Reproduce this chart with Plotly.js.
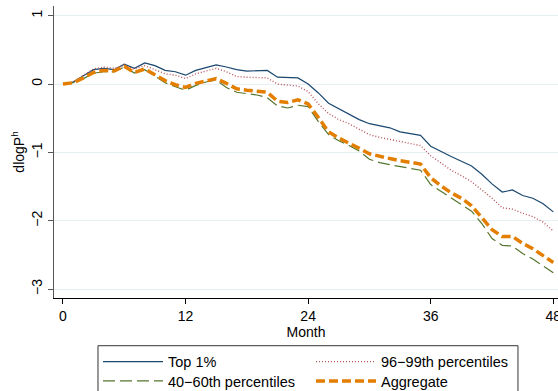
<!DOCTYPE html>
<html>
<head>
<meta charset="utf-8">
<script src="https://cdn.plot.ly/plotly-3.0.1.min.js"></script>
<style>
  html, body { margin: 0; padding: 0; background: #ffffff; }
  #chart { width: 558px; height: 391px; }
</style>
</head>
<body>
<div id="chart"></div>
<script>
// Months since the start of the episode
const months = Array.from({length: 49}, (_, i) => i);

// Cumulative change in log house prices, by price segment
const top1 = [
  0.00, 0.03, 0.12, 0.21, 0.23, 0.21, 0.29, 0.23, 0.31, 0.27,
  0.20, 0.18, 0.13, 0.20, 0.24, 0.28, 0.25, 0.21, 0.19, 0.19,
  0.20, 0.10, 0.09, 0.09, 0.00, -0.13, -0.28, -0.36, -0.43, -0.52,
  -0.58, -0.61, -0.64, -0.70, -0.72, -0.75, -0.91, -0.99, -1.06, -1.13,
  -1.20, -1.32, -1.46, -1.58, -1.55, -1.63, -1.67, -1.75, -1.87
];
const p96to99 = [
  0.00, 0.03, 0.13, 0.22, 0.25, 0.23, 0.27, 0.22, 0.27, 0.21,
  0.15, 0.13, 0.08, 0.15, 0.19, 0.23, 0.18, 0.11, 0.10, 0.10,
  0.09, 0.00, -0.01, -0.03, -0.11, -0.29, -0.43, -0.52, -0.58, -0.66,
  -0.74, -0.78, -0.81, -0.84, -0.87, -0.90, -1.05, -1.15, -1.26, -1.34,
  -1.43, -1.55, -1.67, -1.81, -1.83, -1.89, -1.94, -2.02, -2.15
];
const p40to60 = [
  0.00, 0.02, 0.08, 0.16, 0.18, 0.18, 0.25, 0.16, 0.21, 0.12,
  0.02, -0.04, -0.09, -0.02, 0.03, 0.06, -0.05, -0.12, -0.14, -0.16,
  -0.20, -0.32, -0.35, -0.31, -0.33, -0.55, -0.74, -0.83, -0.90, -0.98,
  -1.10, -1.15, -1.18, -1.21, -1.23, -1.26, -1.47, -1.57, -1.67, -1.76,
  -1.86, -2.04, -2.26, -2.36, -2.37, -2.48, -2.56, -2.66, -2.76
];
const aggregate = [
  0.00, 0.02, 0.09, 0.17, 0.20, 0.19, 0.26, 0.17, 0.22, 0.14,
  0.05, -0.01, -0.05, 0.01, 0.05, 0.08, 0.01, -0.07, -0.09, -0.10,
  -0.12, -0.25, -0.27, -0.23, -0.29, -0.49, -0.70, -0.79, -0.86, -0.94,
  -1.02, -1.06, -1.09, -1.12, -1.15, -1.17, -1.37, -1.49, -1.59, -1.67,
  -1.78, -1.95, -2.13, -2.23, -2.23, -2.33, -2.41, -2.51, -2.61
];

const xTicks = [0, 12, 24, 36, 48];
const yTicks = [-3, -2, -1, 0, 1];

const FONT = 'Liberation Sans, Arial, Helvetica, sans-serif';

// Two legend rows: first row in "legend", second row in "legend2"
const traces = [
  { x: months, y: top1, name: 'Top 1%', mode: 'lines', legend: 'legend',
    line: { color: '#1a476f', width: 1.2 } },
  { x: months, y: p96to99, name: '96\u221299th percentiles', mode: 'lines', legend: 'legend',
    line: { color: '#b8555d', width: 1.4, dash: '1px,2px' } },
  { x: months, y: p40to60, name: '40\u221260th percentiles', mode: 'lines', legend: 'legend2',
    line: { color: '#55752f', width: 1.2, dash: '12px,5px' } },
  { x: months, y: aggregate, name: 'Aggregate', mode: 'lines', legend: 'legend2',
    line: { color: '#e37e00', width: 3.5, dash: '9px,4px' } }
];

const legendBase = {
  orientation: 'h',
  xref: 'container', yref: 'container',
  x: 0.1756, xanchor: 'left',
  yanchor: 'top',
  entrywidth: 138,
  itemwidth: 60,
  traceorder: 'normal',
  borderwidth: 0,
  bgcolor: 'rgba(0,0,0,0)',
  font: { family: FONT, size: 14.5, color: '#000000' }
};

const layout = {
  width: 558, height: 391,
  margin: { l: 54, r: 0, t: 6, b: 93, autoexpand: false },
  paper_bgcolor: '#ffffff',
  plot_bgcolor: '#ffffff',
  font: { family: FONT, size: 14, color: '#000000' },
  showlegend: true,
  legend: Object.assign({}, legendBase, { y: 0.1159 }),
  legend2: Object.assign({}, legendBase, { y: 0.0665 }),
  shapes: [
    // frame around the legend block
    { type: 'rect', xref: 'paper', yref: 'paper',
      x0: 0.0873, x1: 0.9206, y0: -0.1634, y1: -0.40,
      line: { color: '#333333', width: 1 }, fillcolor: 'rgba(0,0,0,0)' }
  ],
  xaxis: {
    range: [-0.88, 48.46],
    tickvals: xTicks,
    ticklabeloverflow: 'allow',
    ticks: 'outside', ticklen: 5, tickcolor: '#000000', tickwidth: 1,
    showgrid: false, zeroline: false,
    showline: true, linecolor: '#000000', linewidth: 1.3,
    tickfont: { family: FONT, size: 14 },
    title: { text: 'Month', font: { family: FONT, size: 14 }, standoff: 2 }
  },
  yaxis: {
    range: [-3.13, 1.142],
    tickvals: yTicks,
    tickangle: -90,
    ticks: 'outside', ticklen: 5, tickcolor: '#555555', tickwidth: 1,
    showgrid: true, gridcolor: '#e6eff1', gridwidth: 1,
    zeroline: false,
    showline: true, linecolor: '#555555', linewidth: 1.5,
    tickfont: { family: FONT, size: 14 },
    title: { text: 'dlogP<sup>h</sup>', font: { family: FONT, size: 14 }, standoff: 1 }
  }
};

Plotly.newPlot('chart', traces, layout, { staticPlot: true, displayModeBar: false });
</script>
</body>
</html>
